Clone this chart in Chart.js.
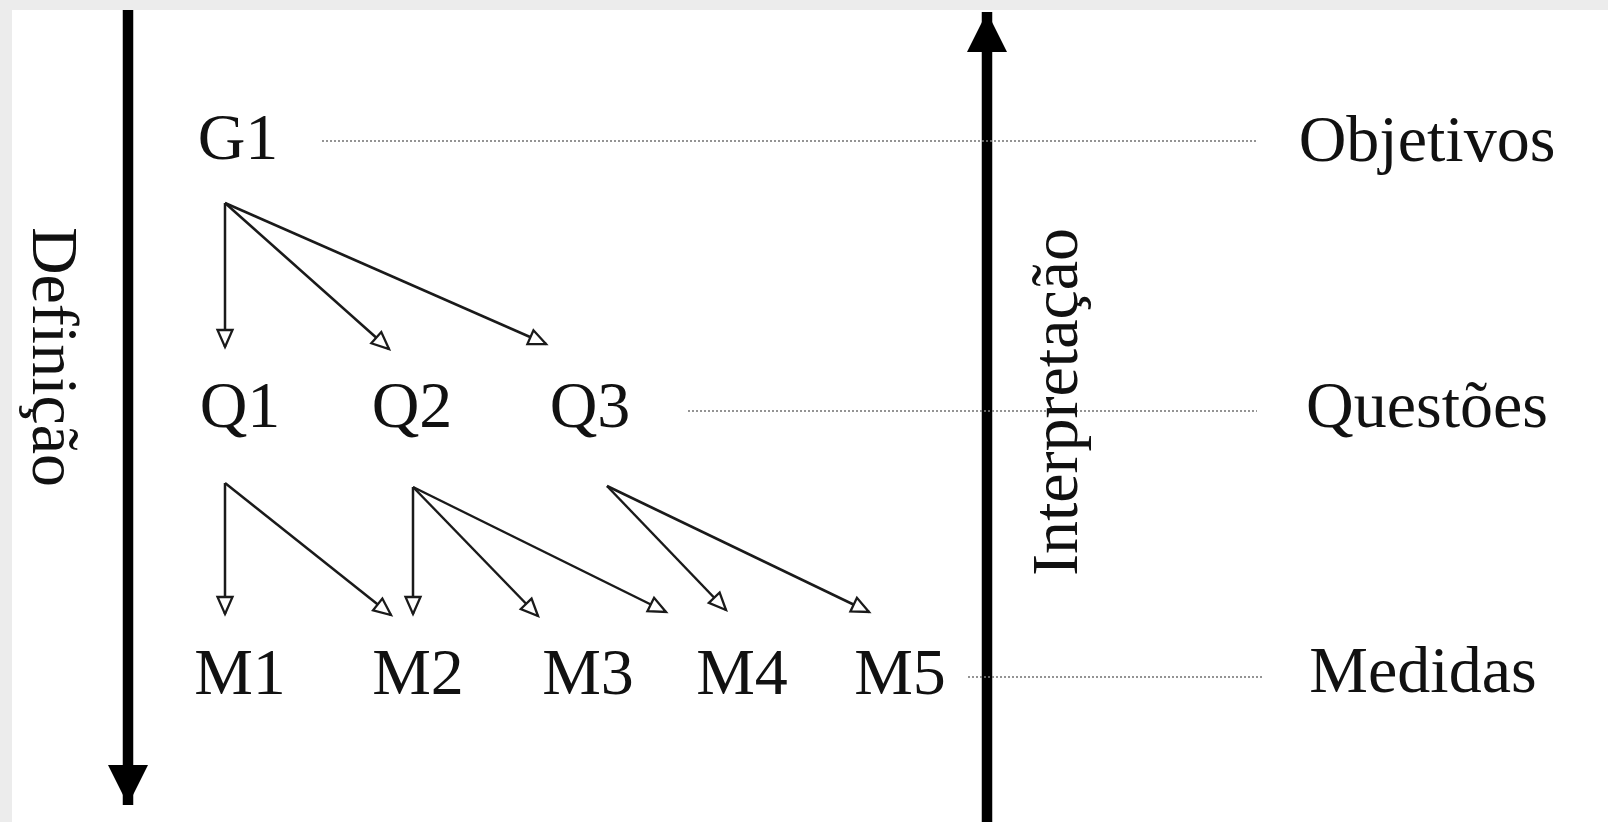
<!DOCTYPE html>
<html>
<head>
<meta charset="utf-8">
<script src="https://cdn.jsdelivr.net/npm/chart.js@4"></script>
<style>
html,body{margin:0;padding:0;background:#fff;overflow:hidden;}
#wrap{position:relative;width:1608px;height:822px;}
</style>
</head>
<body>
<div id="wrap"><canvas id="c" width="1608" height="822"></canvas></div>
<script>
// ---- data (diagram coordinates: x 0..1608, y 0..822 top-down) ----
const goals = ['G1'];
const goalX = [238];
const questions = ['Q1', 'Q2', 'Q3'];
const questionX = [240, 412, 590];
const measures = ['M1', 'M2', 'M3', 'M4', 'M5'];
const measureX = [240, 418, 588, 742, 900];
const rowY = [142, 410, 677];
const levels = ['Objetivos', 'Questões', 'Medidas'];
const levelX = [1427, 1427, 1423];
const levelY = [144, 410, 675];
const guideY = [141, 411, 677];
const guideStartX = [322, 688, 968];
const guideEndX = [1257, 1257, 1262];
const flowLabels = ['Definição', 'Interpretação'];
const flowLabelX = [50, 1060];
const flowLabelY = [357, 402];
const flowAxisX = [128, 987];
const flowStartY = [10, 822];
const flowEndY = [805, 12];
// link arrows: [fromX, fromY, toX, toY]
const links = [
  [225, 203, 225, 347], [225, 203, 389, 349], [225, 203, 546, 344],
  [225, 483, 225, 614], [225, 483, 391, 615],
  [413, 487, 413, 614], [413, 487, 538, 616], [413, 487, 666, 612],
  [607, 486, 726, 610], [607, 486, 869, 612]
];

const FONT = "'Liberation Serif', 'Times New Roman', serif";

const datasets = [];
links.forEach(l => datasets.push({
  data: [{x: l[0], y: l[1]}, {x: l[2], y: l[3]}],
  showLine: true, borderColor: '#1a1a1a', borderWidth: 2.5, pointRadius: 0,
  arrowHead: 'open'
}));
guideY.forEach((y, i) => datasets.push({
  data: [{x: guideStartX[i], y: y}, {x: guideEndX[i], y: y}],
  showLine: true, borderColor: '#7a7a7a', borderWidth: 1.6, borderDash: [2, 2], pointRadius: 0
}));
flowAxisX.forEach((x, i) => datasets.push({
  data: [{x: x, y: flowStartY[i]}, {x: x, y: flowEndY[i]}],
  showLine: true, borderColor: '#000', borderWidth: 10.5, pointRadius: 0,
  arrowHead: 'solid'
}));

const arrowPlugin = {
  id: 'arrowHeads',
  afterDatasetsDraw(chart) {
    const ctx = chart.ctx;
    chart.data.datasets.forEach((ds, di) => {
      if (!ds.arrowHead) return;
      const pts = chart.getDatasetMeta(di).data;
      const a = pts[pts.length - 2], b = pts[pts.length - 1];
      const ang = Math.atan2(b.y - a.y, b.x - a.x);
      const solid = ds.arrowHead === 'solid';
      const len = solid ? 40 : 17, hw = solid ? 20 : 7.5;
      ctx.save();
      ctx.translate(b.x, b.y);
      ctx.rotate(ang);
      ctx.beginPath();
      ctx.moveTo(0, 0);
      ctx.lineTo(-len, -hw);
      ctx.lineTo(-len, hw);
      ctx.closePath();
      if (solid) {
        ctx.fillStyle = '#000';
        ctx.fill();
      } else {
        ctx.fillStyle = '#fff';
        ctx.fill();
        ctx.lineWidth = 2.3;
        ctx.lineJoin = 'miter';
        ctx.strokeStyle = '#1a1a1a';
        ctx.stroke();
      }
      ctx.restore();
    });
  }
};

const textPlugin = {
  id: 'diagramText',
  beforeDraw(chart) {
    const ctx = chart.ctx;
    ctx.save();
    ctx.fillStyle = '#ececec';
    ctx.fillRect(0, 0, chart.width, 10);
    ctx.fillRect(0, 0, 12, chart.height);
    ctx.restore();
  },
  afterDraw(chart) {
    const ctx = chart.ctx, xs = chart.scales.x, ys = chart.scales.y;
    const px = v => xs.getPixelForValue(v), py = v => ys.getPixelForValue(v);
    ctx.save();
    ctx.fillStyle = '#111';
    ctx.font = '66px ' + FONT;
    ctx.textAlign = 'center';
    ctx.textBaseline = 'middle';
    goals.forEach((t, i) => ctx.fillText(t, px(goalX[i]), py(rowY[0])));
    questions.forEach((t, i) => ctx.fillText(t, px(questionX[i]), py(rowY[1])));
    measures.forEach((t, i) => ctx.fillText(t, px(measureX[i]), py(rowY[2])));
    levels.forEach((t, i) => ctx.fillText(t, px(levelX[i]), py(levelY[i])));
    flowLabels.forEach((t, i) => {
      ctx.save();
      ctx.translate(px(flowLabelX[i]), py(flowLabelY[i]));
      ctx.rotate(i === 0 ? Math.PI / 2 : -Math.PI / 2);
      ctx.fillText(t, 0, 0);
      ctx.restore();
    });
    ctx.restore();
  }
};

new Chart(document.getElementById('c'), {
  type: 'scatter',
  data: { datasets },
  options: {
    responsive: false,
    animation: false,
    devicePixelRatio: 1,
    layout: { padding: 0 },
    plugins: { legend: { display: false }, tooltip: { enabled: false } },
    elements: { line: { tension: 0, borderCapStyle: 'butt' } },
    scales: {
      x: { type: 'linear', min: 0, max: 1608, display: false },
      y: { type: 'linear', min: 0, max: 822, reverse: true, display: false }
    }
  },
  plugins: [arrowPlugin, textPlugin]
});
</script>
</body>
</html>
